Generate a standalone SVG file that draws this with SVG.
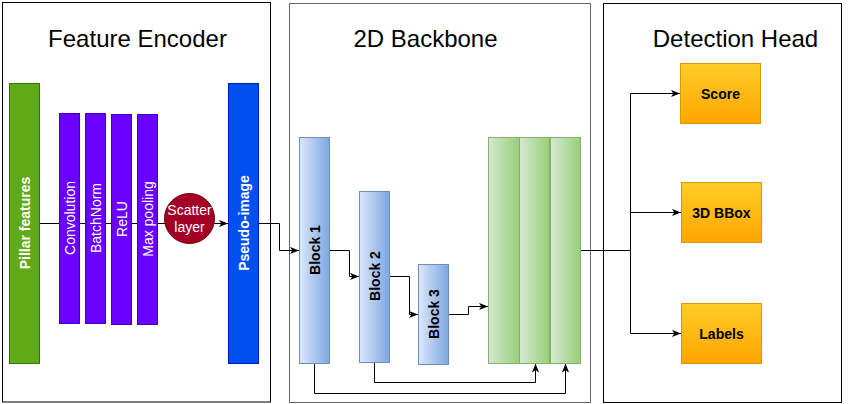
<svg xmlns="http://www.w3.org/2000/svg" width="858" height="404" viewBox="0 0 858 404">
<defs>
<linearGradient id="gBlue" x1="0" y1="0" x2="1" y2="0"><stop offset="0" stop-color="#dae8fc"/><stop offset="1" stop-color="#7ea6e0"/></linearGradient>
<linearGradient id="gGreen" x1="0" y1="0" x2="1" y2="0"><stop offset="0" stop-color="#d5e8d4"/><stop offset="1" stop-color="#97d077"/></linearGradient>
<linearGradient id="gOrange" x1="0" y1="0" x2="0" y2="1"><stop offset="0" stop-color="#ffcd28"/><stop offset="1" stop-color="#ffa500"/></linearGradient>
<marker id="arr" viewBox="0 0 10 8" refX="10" refY="4" markerWidth="9" markerHeight="8" markerUnits="userSpaceOnUse" orient="auto"><path d="M0,0 L10,4 L0,8 L2.5,4 z" fill="#000"/></marker>
</defs>
<style>
.frame{fill:#fff;stroke:#000;stroke-width:1}
.title{font-family:"Liberation Sans",Arial,sans-serif;font-size:24px;fill:#000;text-anchor:middle}
.lbl{font-family:"Liberation Sans",Arial,sans-serif;font-size:14px;text-anchor:middle;dominant-baseline:central}
.b{font-weight:bold}
.w{fill:#fff}
.k{fill:#000}
.purple{fill:#6a00ff;stroke:#3700cc}
.blk{fill:url(#gBlue);stroke:#6c8ebf}
.grn{fill:url(#gGreen);stroke:#82b366}
.org{fill:url(#gOrange);stroke:#d79b00}
.c{fill:none;stroke:#000;stroke-width:1}
.ca{fill:none;stroke:#000;stroke-width:1;marker-end:url(#arr)}
</style>
<g id="frames">
<rect class="frame" x="2.5" y="2.5" width="268" height="399.5"/>
<rect class="frame" x="289.5" y="3.5" width="301" height="399" style="stroke:#666"/>
<rect class="frame" x="603.5" y="3.5" width="238" height="399"/>
<text class="title" x="137.5" y="47">Feature Encoder</text>
<text class="title" x="425.5" y="47">2D Backbone</text>
<text class="title" x="735.5" y="47">Detection Head</text>
</g>
<g id="connectors">
<path class="c" d="M40,223.5 H189"/>
<path class="ca" d="M214,223.5 H228"/>
<path class="ca" d="M259,223.5 H279.5 V250.5 H299"/>
<path class="ca" d="M330,250.5 H349.5 V276.5 H359"/>
<path class="ca" d="M390,276.5 H409.5 V314.5 H418"/>
<path class="ca" d="M449,314.5 H468.5 V306.5 H488"/>
<path class="ca" d="M314.5,363 V393.5 H565.5 V363.5"/>
<path class="ca" d="M374.5,362 V382.5 H535.5 V363.5"/>
<path class="ca" d="M581,250.5 H630.5 V93.5 H680"/>
<path class="ca" d="M630.5,250.5 V212.5 H681"/>
<path class="ca" d="M630.5,250.5 V333.5 H681"/>
</g>
<g id="pillar">
<rect x="9.5" y="83.5" width="30" height="280" fill="#60a917" stroke="#2d7600"/>
<text class="lbl b w" transform="translate(24.5,223) rotate(-90)">Pillar features</text>
</g>
<g id="conv">
<rect class="purple" x="59.5" y="113.5" width="20" height="210"/>
<text class="lbl w" transform="translate(69.5,218) rotate(-90)">Convolution</text>
</g>
<g id="batchnorm">
<rect class="purple" x="85.5" y="113.5" width="20" height="210"/>
<text class="lbl w" transform="translate(95.5,218) rotate(-90)">BatchNorm</text>
</g>
<g id="relu">
<rect class="purple" x="111.5" y="114.5" width="20" height="210"/>
<text class="lbl w" transform="translate(121.5,219) rotate(-90)">ReLU</text>
</g>
<g id="maxpool">
<rect class="purple" x="137.5" y="114.5" width="20" height="210"/>
<text class="lbl w" transform="translate(147.5,219) rotate(-90)">Max pooling</text>
</g>
<g id="scatter">
<circle cx="189.5" cy="218.5" r="25" fill="#a20025" stroke="#6f0000"/>
<text class="lbl w" x="189.5" y="210">Scatter</text>
<text class="lbl w" x="189.5" y="227">layer</text>
</g>
<g id="pseudo">
<rect x="228.5" y="83.5" width="30" height="280" fill="#0050ef" stroke="#001dbc"/>
<text class="lbl b w" transform="translate(243.5,223) rotate(-90)">Pseudo-image</text>
</g>
<g id="block1">
<rect class="blk" x="299.5" y="137.5" width="30" height="226"/>
<text class="lbl b k" transform="translate(314.5,250) rotate(-90)">Block 1</text>
</g>
<g id="block2">
<rect class="blk" x="359.5" y="191.5" width="30" height="171"/>
<text class="lbl b k" transform="translate(374.5,276) rotate(-90)">Block 2</text>
</g>
<g id="block3">
<rect class="blk" x="418.5" y="264.5" width="30" height="100"/>
<text class="lbl b k" transform="translate(433.5,314) rotate(-90)">Block 3</text>
</g>
<g id="concat">
<rect class="grn" x="488.5" y="137.5" width="31" height="226"/>
<rect class="grn" x="519.5" y="137.5" width="30" height="226"/>
<rect class="grn" x="550.5" y="137.5" width="30" height="226"/>
</g>
<g id="score">
<rect class="org" x="680.5" y="63.5" width="80" height="60"/>
<text class="lbl b k" x="720.5" y="93.5">Score</text>
</g>
<g id="bbox">
<rect class="org" x="681.5" y="182.5" width="80" height="60"/>
<text class="lbl b k" x="721.5" y="212.5">3D BBox</text>
</g>
<g id="labels">
<rect class="org" x="681.5" y="303.5" width="80" height="60"/>
<text class="lbl b k" x="721.5" y="333.5">Labels</text>
</g>
</svg>
